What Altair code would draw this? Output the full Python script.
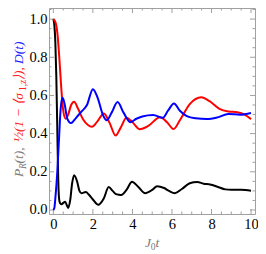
import altair as alt
import pandas as pd

# ---- data ----
black_t = [0, 0.05, 0.1, 0.15, 0.2, 0.25, 0.3, 0.35, 0.42, 0.5, 0.6, 0.68, 0.75, 0.85, 0.95, 1.05,
           1.2, 1.32, 1.42, 1.64, 1.8, 2.0, 2.27, 2.55, 2.8, 3.0, 3.17, 3.3, 3.43, 3.7, 3.98,
           4.3, 4.65, 5.0, 5.25, 5.6, 5.85, 6.15, 6.5, 6.9, 7.28, 7.6, 7.93, 8.3, 8.7, 9.0, 9.5, 10.0]
black_v = [1.0, 0.97, 0.88, 0.7, 0.42, 0.15, 0.05, 0.035, 0.03, 0.037, 0.043, 0.025, 0.011, 0.05, 0.14, 0.182,
           0.15, 0.1, 0.088, 0.094, 0.08, 0.055, 0.027, 0.06, 0.12, 0.1, 0.083, 0.08, 0.078, 0.105, 0.148,
           0.12, 0.088, 0.105, 0.125, 0.115, 0.1, 0.088, 0.11, 0.14, 0.147, 0.138, 0.134, 0.122, 0.108, 0.106, 0.106, 0.101]

red_t = [0, 0.1, 0.2, 0.3, 0.4, 0.5, 0.62, 0.75, 0.9, 1.05, 1.25, 1.5, 1.75, 1.95, 2.2, 2.56, 2.85,
         3.15, 3.4, 3.7, 4.0, 4.38, 4.8, 5.4, 5.75, 6.08, 6.4, 6.9, 7.48, 7.9, 8.4, 8.85, 9.3, 9.7, 10.0]
red_v = [1.0, 0.985, 0.93, 0.8, 0.64, 0.52, 0.478, 0.5, 0.55, 0.567, 0.53, 0.475, 0.445, 0.436, 0.46, 0.506, 0.455,
         0.39, 0.43, 0.483, 0.46, 0.423, 0.44, 0.486, 0.46, 0.424, 0.47, 0.555, 0.591, 0.57, 0.53, 0.516, 0.512, 0.498, 0.476]

blue_t = [0, 0.05, 0.1, 0.2, 0.25, 0.3, 0.35, 0.4, 0.47, 0.58, 0.7, 0.89, 1.05, 1.25, 1.42, 1.7, 2.0,
          2.25, 2.5, 2.7, 2.95, 3.25, 3.55, 3.9, 4.2, 4.5, 5.05, 5.53, 5.8, 6.1, 6.4, 6.75, 7.2, 7.76,
          8.3, 8.85, 9.45, 10.0]
blue_v = [0.0, 0.01, 0.06, 0.2, 0.3, 0.4, 0.5, 0.56, 0.588, 0.55, 0.48, 0.455, 0.47, 0.495, 0.515, 0.55, 0.633,
          0.585, 0.5, 0.47, 0.51, 0.565, 0.51, 0.46, 0.478, 0.49, 0.498, 0.483, 0.52, 0.558, 0.52, 0.492, 0.48, 0.476,
          0.485, 0.503, 0.499, 0.508]

x_major = [0, 2, 4, 6, 8, 10]
x_minor = [v / 2 for v in range(0, 21) if v % 4 != 0]
y_major = [0.0, 0.2, 0.4, 0.6, 0.8, 1.0]
y_minor = [v / 20 for v in range(0, 22) if v % 4 != 0]

X_DOMAIN = [-0.22, 10.2]
Y_DOMAIN = [-0.021, 1.058]
W, H = 206, 206
FRAME = "#a0a0a0"
GRAY = "#7a7a7a"
SERIF = "Times New Roman, Liberation Serif, serif"

rows = []
for name, ts, vs in [("black", black_t, black_v), ("red", red_t, red_v), ("blue", blue_t, blue_v)]:
    for t, v in zip(ts, vs):
        rows.append({"series": name, "t": t, "v": v})
df = pd.DataFrame(rows)

xs = alt.Scale(domain=X_DOMAIN, nice=False, zero=False)
ys = alt.Scale(domain=Y_DOMAIN, nice=False, zero=False)

lines = alt.Chart(df).mark_line(strokeWidth=2, interpolate="monotone", clip=True).encode(
    x=alt.X("t:Q", scale=xs, axis=alt.Axis(values=x_major, format="d", ticks=False, domain=False, grid=False,
                                           labelFont=SERIF, labelFontSize=14.5, labelColor="black",
                                           labelPadding=3, title=None)),
    y=alt.Y("v:Q", scale=ys, axis=alt.Axis(values=y_major, format=".1f", ticks=False, domain=False, grid=False,
                                           labelFont=SERIF, labelFontSize=14.5, labelColor="black",
                                           labelPadding=2, title=None)),
    color=alt.Color("series:N", scale=alt.Scale(domain=["black", "red", "blue"],
                                                range=["#000000", "#ff0000", "#0000ff"]), legend=None),
    order=alt.Order("t:Q"),
)

def xticks(vals, length):
    d = pd.DataFrame({"t": vals})
    base = alt.Chart(d).mark_rule(color=FRAME, strokeWidth=1)
    bottom = base.encode(x=alt.X("t:Q", scale=xs), y=alt.value(H), y2=alt.value(H - length))
    top = base.encode(x=alt.X("t:Q", scale=xs), y=alt.value(0), y2=alt.value(length))
    return [bottom, top]

def yticks(vals, length):
    d = pd.DataFrame({"v": vals})
    base = alt.Chart(d).mark_rule(color=FRAME, strokeWidth=1)
    left = base.encode(y=alt.Y("v:Q", scale=ys), x=alt.value(0), x2=alt.value(length))
    right = base.encode(y=alt.Y("v:Q", scale=ys), x=alt.value(W), x2=alt.value(W - length))
    return [left, right]

ticks = xticks(x_major, 5) + xticks(x_minor, 2.5) + yticks(y_major, 5) + yticks(y_minor, 2.5)

one = pd.DataFrame({"a": [0]})

def label(text, x, y, color, size=13.5, italic=True, angle=0):
    kw = dict(align="left", baseline="alphabetic", font=SERIF, fontSize=size, color=color)
    if italic:
        kw["fontStyle"] = "italic"
    if angle:
        kw["angle"] = angle
    return alt.Chart(one).mark_text(**kw).encode(x=alt.value(x), y=alt.value(y), text=alt.value(text))

# y title (rotated), pieces in three colours
ytitle = [
    label("P", -26, 169, GRAY, angle=270),
    label("R", -23, 161, GRAY, size=9.5, angle=270),
    label("(t), ", -26, 155.5, GRAY, angle=270),
    label("\u00bd(1 \u2212 \u27e8\u03c3", -26, 134, "#ff2020", angle=270),
    label("1,z", -23, 83, "#ff2020", size=9.5, italic=False, angle=270),
    label("\u27e9), ", -26, 72, "#ff2020", angle=270),
    label("D(t)", -26, 56, "#2020ff", angle=270),
]

xtitle = [
    label("J", 96, 239, GRAY),
    label("0", 101.8, 242, GRAY, size=9.5, italic=False),
    label("t", 106.5, 239, GRAY),
]

chart = alt.layer(*ticks, lines, *ytitle, *xtitle).properties(
    width=W, height=H,
    autosize=alt.AutoSizeParams(type="none"),
    padding={"left": 41, "top": 0, "right": 3, "bottom": 38},
).configure_view(stroke=FRAME, strokeWidth=1)

chart.save("out.html", embed_options={"renderer": "svg", "actions": False})
